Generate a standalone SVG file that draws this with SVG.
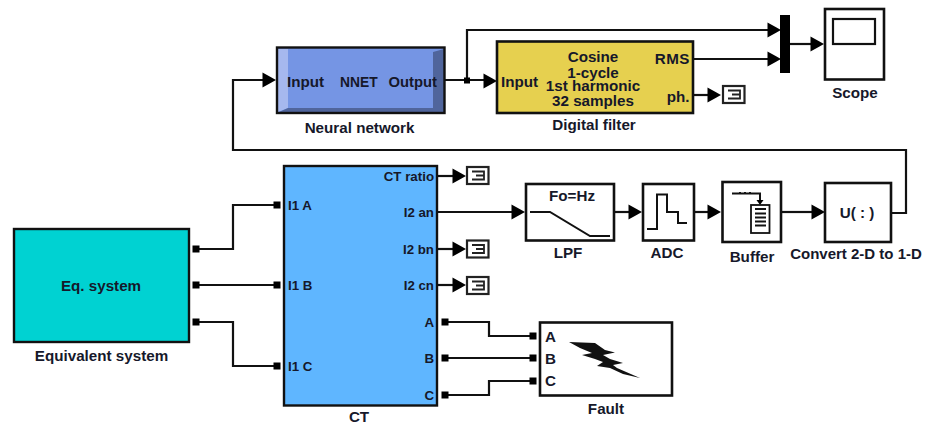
<svg xmlns="http://www.w3.org/2000/svg" width="929" height="423" viewBox="0 0 929 423">
<style>
text{font-family:"Liberation Sans",Arial,sans-serif;font-weight:bold;fill:#16182a}
.m{font-size:15.2px;text-anchor:middle}
.l{font-size:15.2px}
.s{font-size:13.300px}
.e{text-anchor:end}
.b{fill:#fff;stroke:#111;stroke-width:2.600}
.c{fill:none;stroke:#111;stroke-width:2.200}
.p{fill:#000}
.i{fill:none;stroke:#111;stroke-width:2}
</style>
<defs>
<path id="ah" d="M-13.500-7.500L0 0L-13.500 7.500Z" class="p"/>
<g id="term">
<rect x="0" y="0" width="21.500" height="17" fill="#fff" stroke="#222" stroke-width="2.200"/>
<path d="M5 4.500H17V12.500H5M9 8.500H17" fill="none" stroke="#222" stroke-width="1.800"/>
</g>
<rect id="sq" x="-3.500" y="-3.500" width="7" height="7" class="p"/>
</defs>

<g id="connectors">
<path class="c" d="M891 213H906V150H233V80H263"/>
<path class="c" d="M445 80H484"/>
<path class="c" d="M467 80V30H768"/>
<path class="c" d="M694 59H768"/>
<path class="c" d="M790 44H811"/>
<path class="c" d="M694 95H708"/>
<path class="c" d="M438 176H453"/>
<path class="c" d="M438 212H512"/>
<path class="c" d="M438 249H453"/>
<path class="c" d="M438 285H453"/>
<path class="c" d="M614 212H629"/>
<path class="c" d="M694 212H708"/>
<path class="c" d="M782 212H812"/>
<path class="c" d="M196 249H233V205H277"/>
<path class="c" d="M196 285H277"/>
<path class="c" d="M196 322H233V366H277"/>
<path class="c" d="M445 322H489V336H533"/>
<path class="c" d="M445 358H533"/>
<path class="c" d="M445 395H489V381H533"/>
<rect x="464" y="77.500" width="6" height="6" class="p"/>
<use href="#ah" x="276" y="80"/>
<use href="#ah" x="497" y="81"/>
<use href="#ah" x="781" y="30"/>
<use href="#ah" x="781" y="59"/>
<use href="#ah" x="824" y="44"/>
<use href="#ah" x="721" y="95"/>
<use href="#ah" x="466" y="176"/>
<use href="#ah" x="525" y="212"/>
<use href="#ah" x="466" y="249"/>
<use href="#ah" x="466" y="285"/>
<use href="#ah" x="642" y="212"/>
<use href="#ah" x="721" y="212"/>
<use href="#ah" x="825" y="212"/>
<use href="#sq" x="196" y="249"/>
<use href="#sq" x="196" y="285"/>
<use href="#sq" x="196" y="322"/>
<use href="#sq" x="277" y="205"/>
<use href="#sq" x="277" y="285"/>
<use href="#sq" x="277" y="366"/>
<use href="#sq" x="445" y="322"/>
<use href="#sq" x="445" y="358"/>
<use href="#sq" x="445" y="395"/>
<use href="#sq" x="533" y="336"/>
<use href="#sq" x="533" y="358"/>
<use href="#sq" x="533" y="381"/>
</g>

<g id="neural-network">
<rect x="277" y="47.500" width="167.500" height="65.500" fill="#7595e4"/>
<path d="M278 49H288V108L278 112Z" fill="#a6b8ee"/>
<path d="M444 49L433 52V108H288L278 112.500H444Z" fill="#50659c"/>
<rect x="277" y="47.500" width="167.500" height="65.500" fill="none" stroke="#111" stroke-width="2.400"/>
<text x="287" y="87" class="l">Input</text>
<text x="340" y="87" style="font-size:13.800px">NNET</text>
<text x="437" y="87" class="l e" style="font-size:14.800px">Output</text>
<text x="359.500" y="133" class="m">Neural network</text>
</g>

<g id="digital-filter">
<rect x="497" y="41.500" width="196" height="71.500" fill="#e6d04f" stroke="#111" stroke-width="2.600"/>
<text x="501" y="87" class="l">Input</text>
<text x="593" y="62" class="m">Cosine</text>
<text x="593" y="77.500" class="m">1-cycle</text>
<text x="593" y="90.500" class="m">1st harmonic</text>
<text x="593" y="105.500" class="m">32 samples</text>
<text x="690" y="64" class="l e" letter-spacing="0.500">RMS</text>
<text x="689.500" y="102" class="l e">ph.</text>
<text x="594" y="130" class="m">Digital filter</text>
</g>

<g id="mux"><rect x="780" y="15" width="10" height="58" fill="#000"/></g>

<g id="scope">
<rect x="825" y="9" width="59" height="70.500" class="b"/>
<rect x="833" y="19" width="42" height="25" fill="#fff" stroke="#111" stroke-width="2.200"/>
<text x="855" y="98" class="m">Scope</text>
</g>

<g id="term-ph"><use href="#term" x="723" y="86"/></g>
<g id="term-ratio"><use href="#term" x="467" y="167"/></g>
<g id="term-bn"><use href="#term" x="467" y="240.500"/></g>
<g id="term-cn"><use href="#term" x="467" y="277"/></g>

<g id="lpf">
<rect x="526" y="184" width="88" height="56.500" class="b"/>
<path d="M530 212H550L590 236H610" fill="none" stroke="#111" stroke-width="2"/>
<text x="572" y="201" class="m">Fo=Hz</text>
<text x="568" y="258" class="m">LPF</text>
</g>

<g id="adc">
<rect x="643" y="184" width="51" height="56.500" class="b"/>
<path d="M647 229H657V194.500H667V212H678V223H687" class="i"/>
<text x="667" y="258" class="m">ADC</text>
</g>

<g id="buffer">
<rect x="722.500" y="182" width="58.500" height="60" class="b"/>
<path d="M732 193.500H760V201" class="i"/>
<path d="M739 192.500h2M744 192.500h2M749 192.500h2" stroke="#111" stroke-width="1"/>
<path d="M756.500 200H763.500L760 205Z" class="p"/>
<rect x="751" y="205" width="18.500" height="28" fill="#fff" stroke="#111" stroke-width="1.800"/>
<path d="M755 209H766M755 213.500H766M755 217.500H766M755 221.500H766M755 225.500H766" stroke="#111" stroke-width="2"/>
<text x="752" y="262" class="m">Buffer</text>
</g>

<g id="convert">
<rect x="825" y="183" width="66" height="59" class="b"/>
<text x="857" y="218" class="m">U( : )</text>
<text x="856" y="259" class="m" style="font-size:15px">Convert 2-D to 1-D</text>
</g>

<g id="eq-system">
<rect x="14" y="229" width="175" height="113" fill="#00d2d2" stroke="#111" stroke-width="2.400"/>
<text x="101" y="291" class="m">Eq. system</text>
<text x="101.500" y="361" class="m">Equivalent system</text>
</g>

<g id="ct">
<rect x="284" y="166" width="153" height="239.500" fill="#5fb6ff" stroke="#111" stroke-width="2.400"/>
<text x="288" y="210" class="s">I1 A</text>
<text x="288" y="290" class="s">I1 B</text>
<text x="288" y="371" class="s">I1 C</text>
<text x="434" y="181" class="s e">CT ratio</text>
<text x="434" y="217" class="s e">I2 an</text>
<text x="434" y="254" class="s e">I2 bn</text>
<text x="434" y="290" class="s e">I2 cn</text>
<text x="434" y="327" class="s e">A</text>
<text x="434" y="363" class="s e">B</text>
<text x="434" y="400" class="s e">C</text>
<text x="359" y="421.500" class="m">CT</text>
</g>

<g id="fault">
<rect x="540" y="322.500" width="132" height="73" class="b"/>
<text x="545" y="342" class="l">A</text>
<text x="545" y="364" class="l">B</text>
<text x="545" y="386" class="l">C</text>
<path d="M569 342L595 343L605 350L615 352.500L603 355L610 359L623 363L613 365L617 368L640 378L623 374L610 368L597 366L603 362L595 359L582 355L592 353L580 348Z" fill="#111"/>
<text x="606" y="414" class="m">Fault</text>
</g>
</svg>
